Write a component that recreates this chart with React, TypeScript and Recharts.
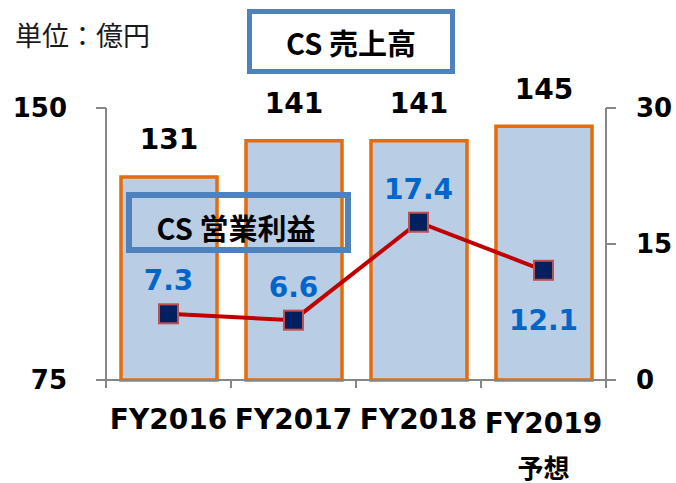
import React from 'react';
import { ComposedChart, Bar, Line, XAxis, YAxis, LabelList } from 'recharts';

const categories = ['FY2016', 'FY2017', 'FY2018', 'FY2019'];
const subLabels = ['', '', '', '予想'];
const salesValues = [131, 141, 141, 145];
const profitValues = [7.3, 6.6, 17.4, 12.1];
const leftTicks = [75, 150];
const rightTicks = [0, 15, 30];

const data = categories.map((c, i) => ({ cat: c, sub: subLabels[i], sales: salesValues[i], profit: profitValues[i] }));

const LATIN = "'DejaVu Sans', Verdana, sans-serif";
const CJK = "'Noto Sans CJK JP', 'Noto Sans', sans-serif";
const AXIS = '#868686';

const XTick = (props: any) => {
  const { x, y, payload, index } = props;
  const half = (payload && payload.offset) || 62.5;
  const sub = subLabels[index] || '';
  const dy = sub ? 4 : 0;
  return (
    <g>
      <line x1={x - half} y1={y} x2={x - half} y2={y + 8} stroke={AXIS} strokeWidth={2} />
      {index === categories.length - 1 && (
        <line x1={x + half} y1={y} x2={x + half} y2={y + 8} stroke={AXIS} strokeWidth={2} />
      )}
      <text x={x} y={y + 39 + dy} textAnchor="middle" dominantBaseline="central" fontFamily={LATIN} fontWeight="bold" fontSize={28} fill="#000">
        {payload.value}
      </text>
      {sub && (
        <text x={x} y={y + 86} textAnchor="middle" dominantBaseline="central" fontFamily={CJK} fontWeight="bold" fontSize={26} fill="#000">
          {sub}
        </text>
      )}
    </g>
  );
};

const BarLabel = (props: any) => {
  const { x, y, width, value } = props;
  return (
    <text x={x + width / 2} y={y - 37} textAnchor="middle" dominantBaseline="central" fontFamily={LATIN} fontWeight="bold" fontSize={28} fill="#000">
      {value}
    </text>
  );
};

const LineLabel = (props: any) => {
  const { x, y, value, index } = props;
  const below = index === 3;
  return (
    <text x={x} y={below ? y + 50 : y - 33} textAnchor="middle" dominantBaseline="central" fontFamily={LATIN} fontWeight="bold" fontSize={28} fill="#0066CC">
      {value}
    </text>
  );
};

const SquareDot = (props: any) => {
  const { cx, cy, index } = props;
  if (cx == null || cy == null) return null;
  return <rect key={`d${index}`} x={cx - 9.5} y={cy - 9.5} width={19} height={19} fill="#002060" stroke="#C0504D" strokeWidth={2} />;
};

export default function App() {
  return (
    <div style={{ position: 'absolute', left: 0, top: 0, width: 676, height: 483, background: '#fff' }}>
      <ComposedChart width={676} height={483} data={data} margin={{ top: 108, right: 0, bottom: 0, left: 0 }}>
        <XAxis
          dataKey="cat"
          xAxisId="x"
          height={103}
          tickSize={0}
          tickMargin={0}
          tickLine={false}
          axisLine={{ stroke: AXIS, strokeWidth: 2 }}
          tick={<XTick />}
          interval={0}
        />
        <YAxis
          yAxisId="left"
          orientation="left"
          width={106}
          domain={[75, 150]}
          ticks={leftTicks}
          tickSize={10}
          tickMargin={29}
          axisLine={{ stroke: AXIS, strokeWidth: 2 }}
          tickLine={{ stroke: AXIS, strokeWidth: 2 }}
          tick={{ fontFamily: LATIN, fontWeight: 'bold', fontSize: 26, fill: '#000' }}
        />
        <YAxis
          yAxisId="right"
          orientation="right"
          width={70}
          domain={[0, 30]}
          ticks={rightTicks}
          tickSize={10}
          tickMargin={20}
          axisLine={{ stroke: AXIS, strokeWidth: 2 }}
          tickLine={{ stroke: AXIS, strokeWidth: 2 }}
          tick={{ fontFamily: LATIN, fontWeight: 'bold', fontSize: 26, fill: '#000' }}
        />
        <Bar xAxisId="x" yAxisId="left" dataKey="sales" barSize={96} fill="#B9CDE5" stroke="#E46C0A" strokeWidth={3.5} isAnimationActive={false}>
          <LabelList dataKey="sales" content={<BarLabel />} />
        </Bar>
        <Line
          xAxisId="x"
          yAxisId="right"
          dataKey="profit"
          stroke="#C00000"
          strokeWidth={4}
          dot={<SquareDot />}
          activeDot={false}
          isAnimationActive={false}
        >
          <LabelList dataKey="profit" content={<LineLabel />} />
        </Line>
      </ComposedChart>
      <svg width={676} height={483} style={{ position: 'absolute', left: 0, top: 0, pointerEvents: 'none' }}>
        <text x={15} y={34} dominantBaseline="central" fontFamily={CJK} fontSize={27} fill="#1a1a1a">単位：億円</text>
        <rect x={249.5} y={11.5} width={203} height={60} fill="#fff" stroke="#4F81BD" strokeWidth={5} />
        <text x={351} y={42} textAnchor="middle" dominantBaseline="central" fontFamily={CJK} fontWeight="bold" fontSize={29} fill="#000">CS 売上高</text>
        <rect x={129} y={195} width={219} height={55} fill="none" stroke="#4F81BD" strokeWidth={6} />
        <text x={236} y={227} textAnchor="middle" dominantBaseline="central" fontFamily={CJK} fontWeight="bold" fontSize={29} fill="#000">CS 営業利益</text>
      </svg>
    </div>
  );
}
